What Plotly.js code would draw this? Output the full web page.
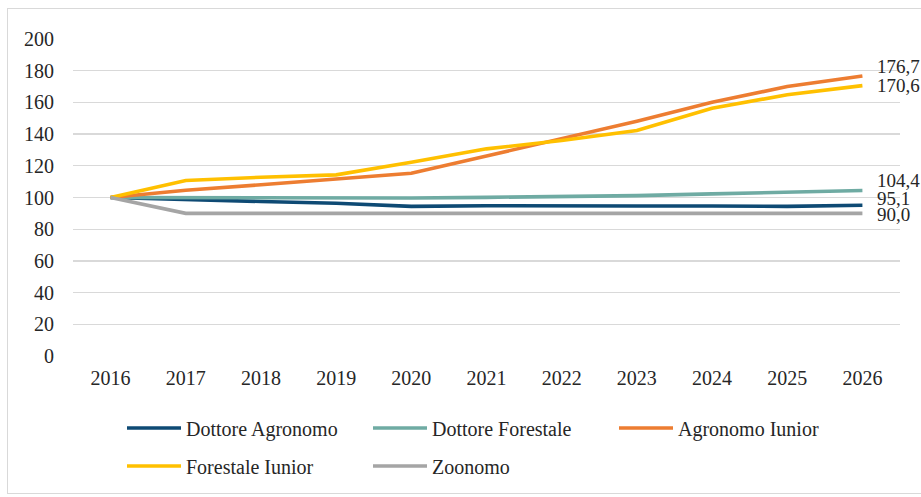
<!DOCTYPE html>
<html>
<head>
<meta charset="utf-8">
<script src="https://cdn.plot.ly/plotly-3.0.1.min.js"></script>
<style>
html,body{margin:0;padding:0;background:#fff;}
#frame{position:absolute;left:7px;top:8px;width:940px;height:486px;border:1px solid #d9d9d9;box-sizing:border-box;}
#chart{position:absolute;left:0;top:0;width:921px;height:497px;}
</style>
</head>
<body>
<div id="frame"></div>
<div id="chart"></div>
<script>
const years = ['2016','2017','2018','2019','2020','2021','2022','2023','2024','2025','2026'];
const dottoreAgronomo = [100, 98.6, 97.5, 96.4, 94.4, 94.8, 94.5, 94.6, 94.6, 94.4, 95.1];
const dottoreForestale = [100, 99.8, 99.6, 99.6, 99.7, 100.1, 100.6, 101.2, 102.3, 103.3, 104.4];
const agronomoIunior = [100, 104.6, 108.0, 111.8, 115.3, 126.2, 137.2, 148.1, 160.1, 170.0, 176.7];
const forestaleIunior = [100, 110.7, 112.8, 114.3, 122.3, 130.7, 136.0, 142.3, 156.3, 164.8, 170.6];
const zoonomo = [100, 90, 90, 90, 90, 90, 90, 90, 90, 90, 90];
const seriesNames = ['Dottore Agronomo','Dottore Forestale','Agronomo Iunior','Forestale Iunior','Zoonomo'];
const endLabels = ['95,1','104,4','176,7','170,6','90,0'];

const colors = ['#0e4a74','#6faba3','#ed7d31','#ffc000','#a5a5a5'];
const data = [dottoreAgronomo, dottoreForestale, agronomoIunior, forestaleIunior, zoonomo];
const legendOf = ['legend','legend','legend','legend2','legend2'];
const labelShift = [7, 10, 9, 0, -1];

const FONT = 'Liberation Serif';
const TXT = '#262626';

const traces = data.map((ys, i) => ({
  x: years, y: ys, name: seriesNames[i], type: 'scatter', mode: 'lines',
  line: {color: colors[i], width: 3.6},
  legend: legendOf[i], hoverinfo: 'skip'
}));

const annotations = data.map((ys, i) => ({
  x: years.length - 1, y: ys[ys.length-1], xref: 'x', yref: 'y',
  text: endLabels[i], showarrow: false, xanchor: 'left', yanchor: 'middle',
  xshift: 13, yshift: labelShift[i],
  font: {family: FONT, size: 19, color: TXT}
}));

const legendCommon = {
  orientation: 'h', xref: 'container', yref: 'container',
  xanchor: 'left', yanchor: 'middle',
  font: {family: FONT, size: 20, color: TXT},
  itemwidth: 54, entrywidth: 177, entrywidthmode: 'pixels',
  bgcolor: 'rgba(0,0,0,0)', borderwidth: 0, traceorder: 'normal'
};

const layout = {
  width: 921, height: 497,
  margin: {l: 73, r: 21, t: 39, b: 141},
  paper_bgcolor: 'rgba(0,0,0,0)', plot_bgcolor: 'rgba(0,0,0,0)',
  font: {family: FONT, size: 20, color: TXT},
  xaxis: {
    type: 'category', range: [-0.5, 10.5], showgrid: false, zeroline: false,
    showline: false, ticks: '', tickfont: {family: FONT, size: 20, color: TXT},
    ticklabelstandoff: 8, fixedrange: true
  },
  yaxis: {
    range: [0, 200], dtick: 20, tick0: 0, showgrid: true, gridcolor: '#d9d9d9', gridwidth: 1.3,
    zeroline: false, showline: false, ticks: '', tickfont: {family: FONT, size: 20, color: TXT},
    ticklabelstandoff: 18, fixedrange: true
  },
  showlegend: true,
  legend: Object.assign({}, legendCommon, {x: 122/921, y: 1 - 428/497}),
  legend2: Object.assign({}, legendCommon, {x: 122/921, y: 1 - 466/497}),
  annotations: annotations
};

Plotly.newPlot('chart', traces, layout, {displayModeBar: false, staticPlot: true});
</script>
</body>
</html>
